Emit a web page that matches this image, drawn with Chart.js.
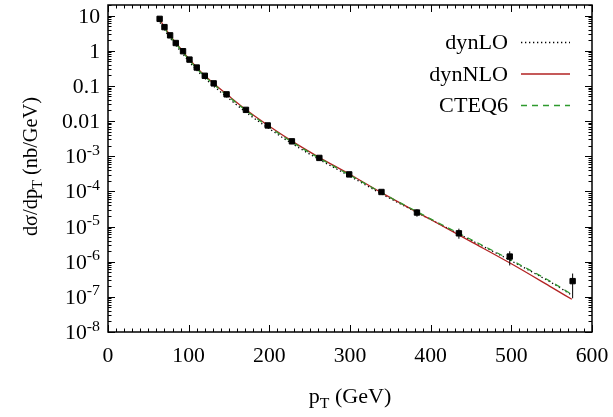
<!DOCTYPE html>
<html>
<head>
<meta charset="utf-8">
<script src="https://cdn.jsdelivr.net/npm/chart.js@4"></script>
<style>
  html, body { margin: 0; padding: 0; background: #fff; }
  #wrap { width: 613px; height: 417px; }
</style>
</head>
<body>
<div id="wrap"><canvas id="c" width="613" height="417"></canvas></div>
<script>
// ---- data ----
const curvePt = [62, 70, 80, 90, 100, 115, 130, 150, 175, 200, 230, 260, 300, 340, 400, 450, 500, 550, 575];
const dynNLO = [9.55, 4.70, 2.21, 1.16, 0.600, 0.254, 0.123, 0.0513, 0.0180, 7.08e-3, 2.51e-3, 9.77e-4, 3.02e-4, 8.91e-5, 1.58e-5, 3.72e-6, 8.71e-7, 1.86e-7, 8.51e-8];
const cteq6  = [9.00, 4.44, 2.09, 1.10, 0.565, 0.240, 0.116, 0.0485, 0.0170, 6.70e-3, 2.37e-3, 9.30e-4, 2.88e-4, 8.90e-5, 1.65e-5, 4.27e-6, 1.10e-6, 2.63e-7, 1.17e-7];
const dynLO  = [8.03, 3.95, 1.86, 0.98, 0.503, 0.214, 0.103, 0.0432, 0.0152, 6.00e-3, 2.15e-3, 8.50e-4, 2.69e-4, 8.30e-5, 1.58e-5, 4.08e-6, 1.05e-6, 2.51e-7, 1.12e-7];

const dataPt  = [64, 70, 77, 84, 93, 101, 110, 120, 131, 147, 171, 198, 228, 262, 299, 339, 383, 435, 498, 576];
const dataVal = [8.07, 4.70, 2.74, 1.66, 0.97, 0.56, 0.333, 0.194, 0.118, 0.0575, 0.0208, 7.5e-3, 2.65e-3, 8.95e-4, 3.04e-4, 9.6e-5, 2.5e-5, 6.4e-6, 1.4e-6, 2.8e-7];
const dataLo  = [7.8, 4.55, 2.65, 1.61, 0.94, 0.543, 0.323, 0.188, 0.114, 0.0555, 0.0200, 7.2e-3, 2.5e-3, 8.3e-4, 2.8e-4, 8.5e-5, 1.9e-5, 4.5e-6, 7.8e-7, 9.1e-8];
const dataHi  = [8.35, 4.85, 2.83, 1.71, 1.00, 0.577, 0.343, 0.200, 0.122, 0.0595, 0.0216, 7.8e-3, 2.8e-3, 9.6e-4, 3.3e-4, 1.09e-4, 3.1e-5, 8.7e-6, 1.98e-6, 4.6e-7];

const xTickValues = [0, 100, 200, 300, 400, 500, 600];
const xTickLabels = ['0', '100', '200', '300', '400', '500', '600'];
const yTickValues = [10, 1, 0.1, 0.01, 1e-3, 1e-4, 1e-5, 1e-6, 1e-7, 1e-8];
const yTickMain   = ['10', '1', '0.1', '0.01', '10', '10', '10', '10', '10', '10'];
const yTickSup    = ['', '', '', '', '-3', '-4', '-5', '-6', '-7', '-8'];
const seriesNames = ['dynLO', 'dynNLO', 'CTEQ6'];

// ---- styles ----
const FONT = '"Liberation Serif", "Times New Roman", serif';
const RED = '#b22222', GREEN = '#2e9a2e', BLACK = '#000';

const pts = (xs, ys) => xs.map((x, i) => ({ x, y: ys[i] }));

function txt(ctx, s, x, y, size, align, sx) {
  ctx.font = size + 'px ' + FONT;
  const w = ctx.measureText(s).width * sx;
  let left = x;
  if (align === 'center') left = x - w / 2;
  else if (align === 'right') left = x - w;
  ctx.save();
  ctx.translate(left, y);
  ctx.scale(sx, 1);
  ctx.textAlign = 'left';
  ctx.textBaseline = 'alphabetic';
  ctx.fillText(s, 0, 0);
  ctx.restore();
  return w;
}
function width(ctx, s, size, sx) {
  ctx.font = size + 'px ' + FONT;
  return ctx.measureText(s).width * sx;
}

const framePlugin = {
  id: 'frame',
  afterDatasetsDraw(chart) {
    const { ctx, scales: { x, y } } = chart;
    ctx.save();
    ctx.strokeStyle = '#000';
    ctx.lineWidth = 1;
    dataPt.forEach((p, i) => {
      const px = x.getPixelForValue(p);
      const y1 = y.getPixelForValue(dataLo[i]);
      const y2 = y.getPixelForValue(dataHi[i]);
      ctx.beginPath();
      ctx.moveTo(px, y1); ctx.lineTo(px, y2);
      ctx.stroke();
    });
    ctx.restore();
  },
  afterDraw(chart) {
    const { ctx, chartArea: a, scales: { x, y } } = chart;
    ctx.save();
    ctx.strokeStyle = '#000';
    ctx.fillStyle = '#000';
    ctx.lineWidth = 1;
    // x ticks (inward, mirrored)
    ctx.beginPath();
    for (let v = 0; v <= 600; v += 10) {
      const px = Math.round(x.getPixelForValue(v)) + 0.5;
      const len = v % 100 === 0 ? 7 : 3.5;
      ctx.moveTo(px, a.bottom); ctx.lineTo(px, a.bottom - len);
      ctx.moveTo(px, a.top); ctx.lineTo(px, a.top + len);
    }
    // y ticks (log, inward, mirrored)
    for (let e = -8; e <= 1; e++) {
      for (let m = 1; m <= 9; m++) {
        const v = m * Math.pow(10, e);
        if (v > 20 || v < 1e-8 * 0.999) continue;
        const py = Math.round(y.getPixelForValue(v)) + 0.5;
        const len = m === 1 ? 7 : 3.5;
        ctx.moveTo(a.left, py); ctx.lineTo(a.left + len, py);
        ctx.moveTo(a.right, py); ctx.lineTo(a.right - len, py);
      }
    }
    ctx.stroke();
    ctx.lineWidth = 1.5;
    ctx.strokeRect(a.left, a.top, a.right - a.left, a.bottom - a.top);

    // x tick labels
    const SX = 1.06, TS = 20.5, SS = 15;
    xTickValues.forEach((v, i) => {
      txt(ctx, xTickLabels[i], x.getPixelForValue(v), a.bottom + 30, TS, 'center', SX);
    });
    // y tick labels
    const rightEdge = a.left - 8;
    yTickValues.forEach((v, i) => {
      const py = y.getPixelForValue(v) + 7;
      const ws = yTickSup[i] ? width(ctx, yTickSup[i], SS, SX) : 0;
      const wm = width(ctx, yTickMain[i], TS, SX);
      txt(ctx, yTickMain[i], rightEdge - ws - wm, py, TS, 'left', SX);
      if (yTickSup[i]) txt(ctx, yTickSup[i], rightEdge - ws, py - 8.5, SS, 'left', SX);
    });

    // x title: p_T (GeV)
    {
      const s1 = 'p', sub = 'T', s2 = ' (GeV)';
      const size = 21, subSize = 15, sx = 1.05;
      const w = width(ctx, s1, size, sx) + width(ctx, sub, subSize, sx) + width(ctx, s2, size, sx);
      let cx = (a.left + a.right) / 2 - w / 2;
      const by = 403;
      cx += txt(ctx, s1, cx, by, size, 'left', sx);
      cx += txt(ctx, sub, cx, by + 5, subSize, 'left', sx);
      txt(ctx, s2, cx, by, size, 'left', sx);
    }
    // y title: dσ/dp_T (nb/GeV)
    {
      const s1 = 'dσ/dp', sub = 'T', s2 = ' (nb/GeV)';
      const size = 21, subSize = 15, sx = 0.97;
      const w = width(ctx, s1, size, sx) + width(ctx, sub, subSize, sx) + width(ctx, s2, size, sx);
      ctx.save();
      ctx.translate(37, (a.top + a.bottom) / 2 - 2);
      ctx.rotate(-Math.PI / 2);
      let cx = -w / 2;
      cx += txt(ctx, s1, cx, 0, size, 'left', sx);
      cx += txt(ctx, sub, cx, 5, subSize, 'left', sx);
      txt(ctx, s2, cx, 0, size, 'left', sx);
      ctx.restore();
    }

    // legend (gnuplot style)
    const legY = [42, 73.5, 105];
    const dsIdx = [0, 1, 2];
    seriesNames.forEach((name, i) => {
      const ds = chart.data.datasets[dsIdx[i]];
      txt(ctx, name, 508, legY[i] + 7, 21.5, 'right', 1.03);
      ctx.save();
      ctx.strokeStyle = ds.borderColor;
      ctx.lineWidth = ds.borderWidth;
      ctx.setLineDash(ds.borderDash || []);
      ctx.beginPath();
      ctx.moveTo(521, legY[i] + 0.5); ctx.lineTo(570, legY[i] + 0.5);
      ctx.stroke();
      ctx.restore();
    });
    ctx.restore();
  }
};

new Chart(document.getElementById('c'), {
  type: 'scatter',
  data: {
    datasets: [
      { label: seriesNames[0], data: pts(curvePt, dynLO), showLine: true, pointRadius: 0,
        borderColor: BLACK, borderWidth: 1.3, borderDash: [1.3, 2.7], cubicInterpolationMode: 'monotone', order: 3 },
      { label: seriesNames[1], data: pts(curvePt, dynNLO), showLine: true, pointRadius: 0,
        borderColor: RED, borderWidth: 1.3, cubicInterpolationMode: 'monotone', order: 2 },
      { label: seriesNames[2], data: pts(curvePt, cteq6), showLine: true, pointRadius: 0,
        borderColor: GREEN, borderWidth: 1.3, borderDash: [6, 5], cubicInterpolationMode: 'monotone', order: 1 },
      { label: 'data', data: pts(dataPt, dataVal), showLine: false, pointStyle: 'rect',
        pointRadius: 3.8, pointBorderWidth: 1, backgroundColor: BLACK, borderColor: BLACK, order: 0 }
    ]
  },
  options: {
    responsive: false,
    animation: false,
    devicePixelRatio: 1,
    layout: { padding: { left: 108, top: 3, right: 21, bottom: 85 } },
    plugins: { legend: { display: false }, tooltip: { enabled: false } },
    scales: {
      x: { type: 'linear', min: 0, max: 600, display: false },
      y: { type: 'logarithmic', min: 1e-8, max: 20, display: false }
    }
  },
  plugins: [framePlugin]
});
</script>
</body>
</html>
